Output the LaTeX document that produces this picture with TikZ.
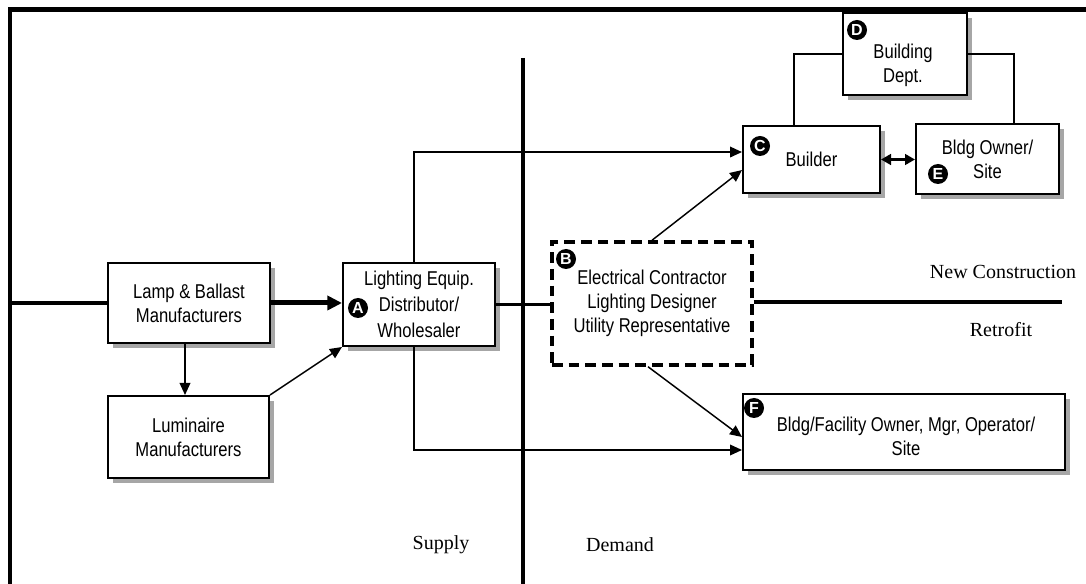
\documentclass[tikz,border=0pt]{standalone}
\usepackage{fontspec}
\setmainfont{Liberation Serif}
\newfontfamily\boxfont[FakeStretch=0.83]{Liberation Sans}
\newfontfamily\badgefont{Liberation Sans}
\usetikzlibrary{arrows.meta,shadows}
\begin{document}
\begin{tikzpicture}[x=0.75pt,y=-0.75pt,
  box/.style={draw,line width=1.5pt,fill=white,inner sep=0pt,align=center,
    font={\boxfont\fontsize{15}{18}\selectfont},
    drop shadow={shadow xshift=3.5pt,shadow yshift=-3.5pt,fill=black!35,opacity=1}},
  dbox/.style={draw,line width=2.6pt,dash pattern=on 8pt off 4.5pt,fill=white,inner sep=0pt,align=center,
    font={\boxfont\fontsize{15}{18}\selectfont}},
  badge/.style={circle,fill=black,text=white,inner sep=0pt,minimum size=15pt,
    font={\badgefont\bfseries\fontsize{12}{12}\selectfont}},
  lbl/.style={font={\fontsize{15}{18}\selectfont}},
  arr/.style={line width=1.1pt,-{Triangle[length=9pt,width=8pt]}},
  conn/.style={line width=1.1pt},
  mainline/.style={line width=2.5pt}]
\useasboundingbox (0,0) rectangle (1086,584);
% frame
\draw[line width=3.75pt] (8,10) -- (1086,10);
\draw[line width=3pt] (10,10) -- (10,584);
\draw[line width=2.4pt] (523,58) -- (523,584);
% boxes
\node[box,minimum width=121.5pt,minimum height=60pt] (lamp) at (189,303) {Lamp \& Ballast\\Manufacturers};
\node[box,minimum width=114pt,minimum height=62.25pt,font={\boxfont\fontsize{15}{19.5}\selectfont}] (dist) at (419,304.5) {Lighting Equip.\\Distributor/\\Wholesaler};
\node[box,minimum width=120.75pt,minimum height=61.5pt] (lum) at (188.5,437) {Luminaire\\Manufacturers};
\node[box,minimum width=93pt,minimum height=61.5pt] (dept) at (905,54) {};
\node[box,minimum width=102.75pt,minimum height=50.25pt] (builder) at (811.5,159.5) {Builder};
\node[box,minimum width=107.25pt,minimum height=52.5pt] (owner) at (987.5,159) {Bldg Owner/\\Site};
\node[box,minimum width=241.5pt,minimum height=57pt] (fac) at (904,432) {};
\node[dbox,minimum width=150pt,minimum height=92.25pt] (ec) at (652,303.5) {Electrical Contractor\\Lighting Designer\\Utility Representative};
\node[align=center,inner sep=0pt,font={\boxfont\fontsize{15}{18}\selectfont}] (depttext) at (903,65) {Building\\Dept.};
\node[align=center,inner sep=0pt,font={\boxfont\fontsize{15}{18}\selectfont}] (factext) at (906,436) {Bldg/Facility Owner, Mgr, Operator/\\Site};
% badges
\node[badge] (bA) at (358,308) {A};
\node[badge] (bB) at (566,259) {B};
\node[badge] (bC) at (760,146) {C};
\node[badge] (bD) at (857,30) {D};
\node[badge] (bE) at (938,174) {E};
\node[badge] (bF) at (754,408) {F};
% main horizontal line
\coordinate (lstart) at (10,303);
\coordinate (lend) at (1062,302);
\draw[mainline] (lstart) -- (lamp.west);
\draw[line width=3.75pt,-{Triangle[length=11pt,width=10.5pt]}] (lamp.east |- 0,303) -- (dist.west |- 0,303);
\draw[mainline] (dist.east) -- (dist.east -| ec.west);
\draw[mainline] (ec.east |- lend) -- (lend);
% connectors
\draw[arr] (lamp.south -| 185,0) -- (lum.north -| 185,0);
\draw[arr] (lum.north east) -- (dist.south west);
\draw[arr] ([xshift=-3.75pt]dist.north) |- ([yshift=5.6pt]builder.west);
\draw[arr] ([xshift=-3.75pt]dist.south) |- ([yshift=-13.5pt]fac.west);
\draw[arr] (ec.north) -- ([yshift=-7.9pt]builder.west);
\draw[arr] ([xshift=-3pt]ec.south) -- ([yshift=-3.75pt]fac.west);
\draw[line width=1.8pt,{Triangle[length=7.5pt,width=8pt]}-{Triangle[length=7.5pt,width=8pt]}] (builder.east) -- (builder.east -| owner.west);
\draw[conn] (dept.west) -| ([xshift=-13.1pt]builder.north);
\draw[line width=1.7pt] (dept.east) -| ([xshift=19.9pt]owner.north);
% labels
\node[lbl] (supply) at (441,545) {Supply};
\node[lbl] (demand) at (620,545) {Demand};
\node[lbl] (newc) at (1003,272) {New Construction};
\node[lbl] (retro) at (1001,330) {Retrofit};
\end{tikzpicture}
\end{document}
